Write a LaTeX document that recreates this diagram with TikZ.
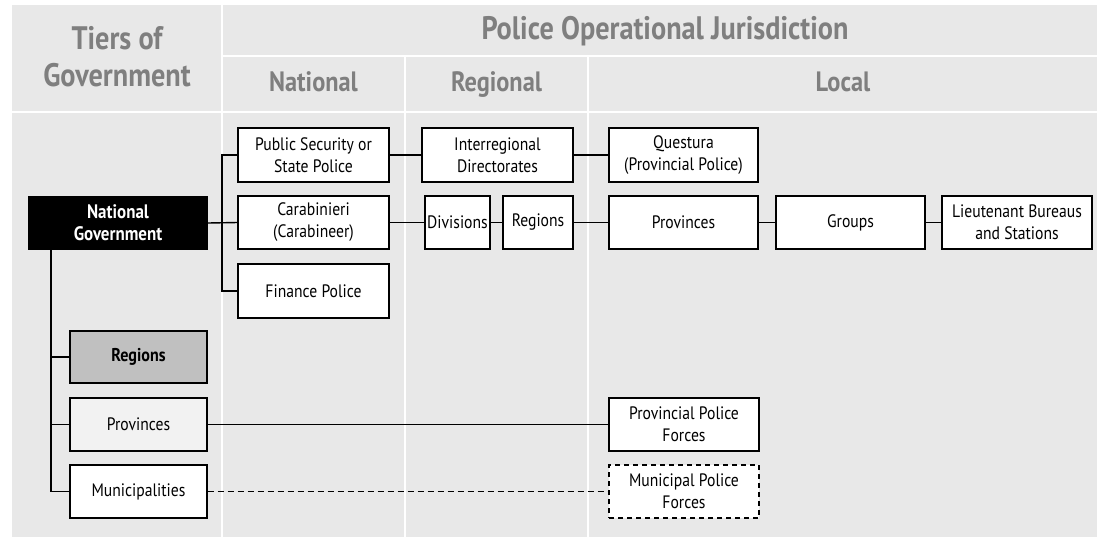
\documentclass[tikz,border=0pt]{standalone}
\usepackage{fontspec}
\setmainfont[FakeStretch=0.87]{PT Sans}
\definecolor{bg}{HTML}{E8E8E8}
\definecolor{hd}{HTML}{7F7F7F}
\definecolor{regfill}{HTML}{C0C0C0}
\definecolor{provfill}{HTML}{F2F2F2}
\tikzset{
  cell/.style={fill=bg},
  hdtext/.style={text=hd, font=\fontsize{32.5}{37}\selectfont\bfseries, align=center, inner sep=0pt},
  subhd/.style={text=hd, font=\fontsize{28}{32}\selectfont\bfseries, inner sep=0pt, anchor=base},
  box/.style={draw=black, line width=1.4pt, fill=white, inner sep=0pt, align=center,
    font=\fontsize{18}{22}\selectfont},
  boldbox/.style={box, font=\fontsize{19.5}{22}\selectfont\bfseries},
  conn/.style={line width=1.4pt},
}
\begin{document}
\begin{tikzpicture}[x=1pt,y=-1pt]
\useasboundingbox (0,0) rectangle (1099,539);
\fill[white] (0,0) rectangle (1099,539);
% header cells
\fill[cell] (12,5) rectangle (221,111);
\fill[cell] (223,5) rectangle (1097,55);
\fill[cell] (223,57) rectangle (404,111);
\fill[cell] (406,57) rectangle (587,111);
\fill[cell] (589,57) rectangle (1097,111);
% body cells
\fill[cell] (12,113) rectangle (221,537);
\fill[cell] (223,113) rectangle (404,537);
\fill[cell] (406,113) rectangle (587,537);
\fill[cell] (589,113) rectangle (1097,537);
% header texts
\node[hdtext] (h1) at (117,57) {Tiers of\\Government};
\node[hdtext, anchor=base] (h2) at (665,39) {Police Operational Jurisdiction};
\node[subhd] (h3) at (313.5,91) {National};
\node[subhd] (h4) at (496.5,91) {Regional};
\node[subhd] (h5) at (843,91) {Local};
% boxes
\node[boldbox, fill=black, text=white, minimum width=178pt, minimum height=52pt] (ng) at (118,223) {National\\Government};
\node[box, minimum width=151pt, minimum height=54pt] (ps) at (313.5,155) {Public Security or\\State Police};
\node[box, minimum width=151pt, minimum height=53pt] (cb) at (313.5,222.5) {Carabinieri\\(Carabineer)};
\node[box, minimum width=151pt, minimum height=54pt] (fp) at (313.5,291) {Finance Police};
\node[box, minimum width=151pt, minimum height=54pt] (ir) at (497.5,155) {Interregional\\Directorates};
\node[box, minimum width=149pt, minimum height=54pt] (qu) at (683.5,155) {Questura\\(Provincial Police)};
\node[box, minimum width=65pt, minimum height=53pt] (dv) at (457.5,222.5) {Divisions};
\node[box, minimum width=70pt, minimum height=53pt] (rg) at (538,222.5) {Regions};
\node[box, minimum width=149pt, minimum height=53pt] (pv) at (683.5,222.5) {Provinces};
\node[box, minimum width=149pt, minimum height=53pt] (gr) at (850.5,222.5) {Groups};
\node[box, minimum width=150pt, minimum height=53pt] (lt) at (1017,222.5) {Lieutenant Bureaus\\and Stations};
\node[boldbox, fill=regfill, font=\fontsize{18.5}{22}\selectfont\bfseries, minimum width=137pt, minimum height=52pt] (rgl) at (138.5,357) {Regions};
\node[box, fill=provfill, minimum width=137pt, minimum height=53pt] (pvl) at (138.5,424.5) {Provinces};
\node[box, minimum width=137pt, minimum height=53pt] (mu) at (138.5,491.5) {Municipalities};
\node[box, minimum width=150pt, minimum height=53pt] (ppf) at (684,424.5) {Provincial Police\\Forces};
\node[box, dashed, dash pattern=on 5pt off 4pt, minimum width=150pt, minimum height=53pt] (mpf) at (684,491.5) {Municipal Police\\Forces};
% connectors
\coordinate (jx) at (222,0);
\coordinate (lx) at (51,0);
\draw[conn] (ng.east) -- (cb.west);
\draw[conn] (ps.west) -- (ps.west -| jx) -- (fp.west -| jx) -- (fp.west);
\draw[conn] (ps) -- (ir);
\draw[conn] (ir) -- (qu);
\draw[conn] (cb) -- (dv);
\draw[conn] (dv) -- (rg);
\draw[conn] (rg) -- (pv);
\draw[conn] (pv) -- (gr);
\draw[conn] (gr) -- (lt);
\draw[conn] (ng.south -| lx) -- (mu.west -| lx) -- (mu.west);
\draw[conn] (rgl.west -| lx) -- (rgl.west);
\draw[conn] (pvl.west -| lx) -- (pvl.west);
\draw[conn] (pvl) -- (ppf);
\draw[conn, dash pattern=on 6pt off 4pt] (mu) -- (mpf);
\end{tikzpicture}
\end{document}
